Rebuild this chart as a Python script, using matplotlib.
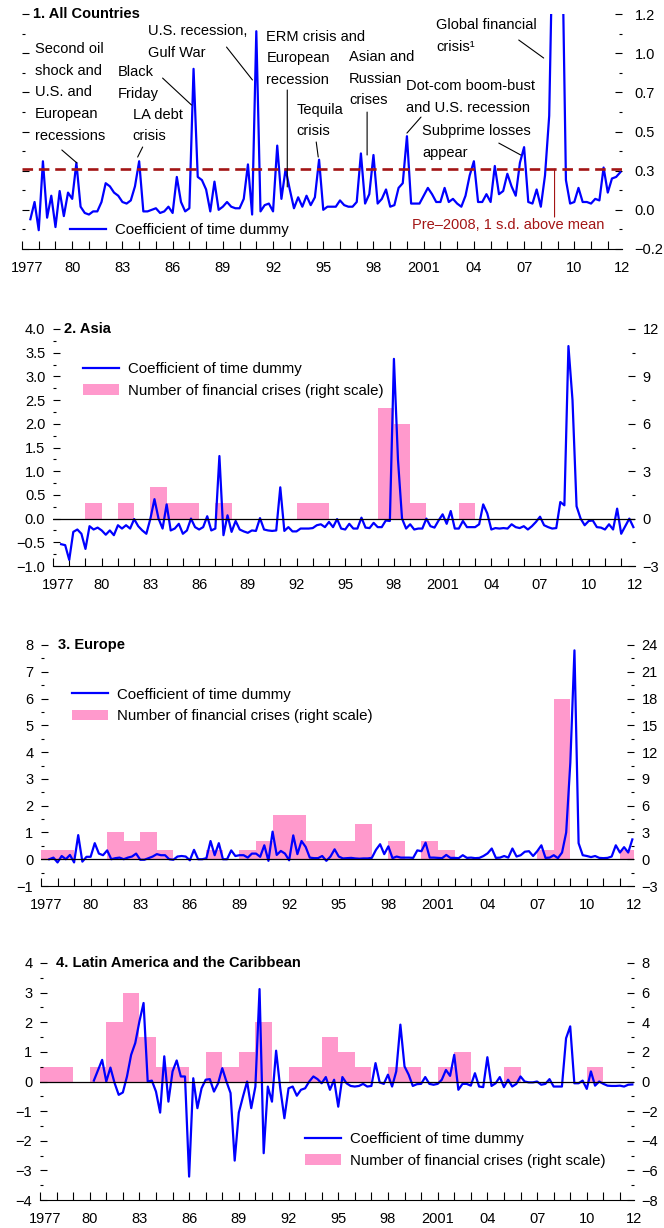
import numpy as np
import matplotlib
matplotlib.use('Agg')
import matplotlib.pyplot as plt
from matplotlib.lines import Line2D
from matplotlib.patches import Patch
from matplotlib.ticker import MultipleLocator

plt.rcParams['font.family'] = ['Liberation Sans', 'DejaVu Sans']

BLUE = '#0000FF'
PINK = '#FF99CC'
DARKRED = '#A31515'

# quarterly coefficients of the time dummy, first point 1977:Q2
first_quarter = 1977.5
all_countries = [
    -0.06, 0.05, -0.13, 0.31, -0.05, 0.09, -0.11, 0.12, -0.04, 0.11,
    0.07, 0.30, 0.02, -0.02, -0.03, -0.01, -0.01, 0.05, 0.17, 0.15,
    0.11, 0.09, 0.05, 0.04, 0.06, 0.15, 0.31, -0.01, -0.01, 0.00,
    0.01, -0.02, -0.01, 0.02, -0.02, 0.21, 0.05, -0.01, 0.01, 0.90,
    0.21, 0.19, 0.13, -0.01, 0.18, 0.00, 0.02, 0.05, 0.02, 0.01,
    0.01, 0.07, 0.29, -0.03, 1.14, -0.01, 0.03, 0.04, -0.01, 0.41,
    0.07, 0.26, 0.13, 0.01, 0.08, 0.02, 0.09, 0.03, 0.08, 0.32,
    0.00, 0.02, 0.02, 0.02, 0.06, 0.03, 0.02, 0.02, 0.05, 0.36,
    0.04, 0.10, 0.35, 0.04, 0.07, 0.13, 0.02, 0.03, 0.14, 0.17,
    0.47, 0.04, 0.04, 0.04, 0.09, 0.14, 0.10, 0.05, 0.05, 0.14,
    0.05, 0.07, 0.04, 0.02, 0.09, 0.22, 0.31, 0.05, 0.05, 0.10,
    0.05, 0.28, 0.10, 0.12, 0.23, 0.15, 0.09, 0.30, 0.40, 0.05,
    0.04, 0.13, 0.02, 0.22, 0.60, 2.00, 2.60, 1.90, 0.19, 0.04,
    0.05, 0.14, 0.05, 0.05, 0.04, 0.07, 0.06, 0.27, 0.11, 0.20,
    0.21, 0.24,
]
asia = [
    -0.54, -0.56, -0.87, -0.28, -0.23, -0.32, -0.64, -0.16, -0.23, -0.19,
    -0.25, -0.34, -0.25, -0.35, -0.14, -0.21, -0.14, -0.21, -0.01, -0.16,
    -0.25, -0.32, 0.00, 0.41, 0.00, -0.21, 0.30, -0.25, -0.21, -0.11,
    -0.32, -0.25, 0.00, -0.18, -0.23, -0.18, 0.05, -0.25, -0.21, 1.32,
    -0.35, 0.07, -0.28, -0.05, -0.23, -0.27, -0.30, -0.25, -0.26, 0.01,
    -0.23, -0.25, -0.26, -0.25, 0.66, -0.26, -0.18, -0.27, -0.27, -0.21,
    -0.21, -0.21, -0.20, -0.14, -0.12, -0.18, -0.07, -0.18, -0.01, -0.21,
    -0.23, -0.11, -0.21, -0.21, 0.02, -0.19, -0.20, -0.09, -0.18, -0.18,
    -0.04, -0.05, 3.37, 1.24, 0.00, -0.21, -0.12, -0.23, -0.21, -0.21,
    0.00, -0.16, -0.19, -0.04, 0.09, -0.11, 0.16, -0.21, -0.21, -0.05,
    -0.18, -0.18, -0.18, -0.12, 0.30, 0.11, -0.23, -0.20, -0.21, -0.20,
    -0.21, -0.12, -0.18, -0.20, -0.16, -0.23, -0.16, -0.07, 0.04, -0.14,
    -0.18, -0.21, -0.20, 0.35, 0.28, 3.64, 2.50, 0.26, 0.00, -0.14,
    -0.05, -0.04, -0.18, -0.19, -0.23, -0.12, -0.23, 0.21, -0.32, -0.16,
    0.00, -0.18,
]
europe = [
    0.00, 0.06, -0.12, 0.12, 0.00, 0.16, -0.12, 0.90, -0.09, 0.09,
    0.09, 0.60, 0.21, 0.15, 0.33, 0.00, 0.04, 0.06, 0.00, 0.06,
    0.10, 0.21, -0.02, -0.02, 0.04, 0.10, 0.19, 0.15, 0.15, 0.00,
    -0.02, 0.10, 0.12, 0.10, -0.04, 0.35, 0.00, 0.00, 0.04, 0.68,
    0.15, 0.60, 0.00, 0.00, 0.33, 0.12, 0.15, 0.15, 0.06, 0.21,
    0.21, 0.09, 0.52, -0.06, 1.03, 0.16, 0.31, 0.21, -0.04, 0.89,
    0.19, 0.68, 0.46, 0.06, 0.04, 0.04, 0.12, -0.06, 0.10, 0.37,
    0.10, 0.03, 0.04, 0.05, 0.03, 0.02, 0.03, 0.03, 0.05, 0.35,
    0.56, 0.19, 0.48, 0.04, 0.10, 0.06, 0.06, 0.06, 0.05, 0.33,
    0.30, 0.62, 0.06, 0.06, 0.05, 0.04, 0.16, 0.05, 0.05, 0.04,
    0.15, 0.05, 0.06, 0.04, 0.05, 0.12, 0.22, 0.40, 0.05, 0.06,
    0.12, 0.06, 0.40, 0.10, 0.15, 0.28, 0.30, 0.12, 0.30, 0.52,
    0.05, 0.06, 0.15, 0.04, 0.25, 1.00, 3.60, 7.80, 0.60, 0.15,
    0.12, 0.08, 0.12, 0.05, 0.04, 0.05, 0.10, 0.52, 0.25, 0.45,
    0.25, 0.74,
]
latam = [None] * 11 + [
    0.03, 0.38, 0.73, 0.00, 0.47, -0.05, -0.45, -0.37, 0.17,
    0.90, 1.30, 2.03, 2.65, 0.00, 0.03, -0.34, -1.05, 0.85, -0.68,
    0.34, 0.71, 0.17, 0.17, -3.21, 0.11, -0.90, -0.23, 0.06, 0.08,
    -0.34, -0.06, 0.45, 0.00, -0.39, -2.67, -1.05, -0.51, 0.00, -0.90,
    -0.17, 3.12, -2.42, -0.17, -0.68, 1.04, -0.23, -1.24, -0.23, -0.17,
    -0.48, -0.28, -0.23, 0.00, 0.17, 0.08, -0.06, 0.15, -0.28, 0.06,
    -0.85, 0.15, -0.06, -0.15, -0.17, -0.15, -0.08, -0.17, -0.15, 0.62,
    -0.03, -0.08, 0.23, -0.17, 0.34, 1.92, 0.51, 0.23, -0.15, -0.09,
    -0.08, 0.15, -0.08, -0.11, -0.08, 0.06, 0.39, 0.19, 0.90, -0.28,
    -0.08, -0.08, -0.14, 0.28, -0.17, -0.19, 0.82, -0.15, -0.06, 0.15,
    -0.19, 0.06, -0.17, -0.08, 0.17, 0.00, -0.03, -0.03, 0.00, -0.11,
    -0.08, 0.08, -0.17, -0.17, -0.17, 1.46, 1.86, -0.06, -0.06, 0.03,
    -0.25, 0.34, -0.14, 0.00, -0.08, -0.14, -0.15, -0.15, -0.14, -0.17,
    -0.11, -0.10,
]

# number of financial crises per year (right scale)
asia_years = [1979, 1981, 1983, 1984, 1985, 1987, 1992, 1993, 1997, 1998, 1999, 2002]
asia_crises = [1, 1, 2, 1, 1, 1, 1, 1, 7, 6, 1, 1]
europe_years = [1977, 1978, 1981, 1982, 1983, 1984, 1987, 1989, 1990, 1991, 1992,
                1993, 1994, 1995, 1996, 1998, 2000, 2001, 2007, 2008, 2012]
europe_crises = [1, 1, 3, 2, 3, 1, 1, 1, 2, 5, 5, 2, 2, 2, 4, 2, 2, 1, 1, 18, 1]
latam_years = [1977, 1978, 1980, 1981, 1982, 1983, 1984, 1985, 1987, 1988, 1989, 1990,
               1992, 1993, 1994, 1995, 1996, 1998, 1999, 2001, 2002, 2005, 2010]
latam_crises = [1, 1, 1, 4, 6, 3, 1, 1, 2, 1, 2, 4, 1, 1, 3, 2, 1, 1, 1, 1, 2, 1, 1]

threshold = 0.26  # pre-2008, 1 s.d. above mean

year_labels = ['1977', '80', '83', '86', '89', '92', '95', '98', '2001', '04', '07', '10', '12']
year_label_pos = [1977.3, 1980, 1983, 1986, 1989, 1992, 1995, 1998, 2001, 2004, 2007, 2010, 2012.85]

quarters = first_quarter + 0.25 * np.arange(len(all_countries))

W, H = 664, 1228
fig = plt.figure(figsize=(W / 100, H / 100), dpi=100)


def px_axes(x0, y0, x1, y1):
    return fig.add_axes([x0 / W, 1 - y1 / H, (x1 - x0) / W, (y1 - y0) / H])


def style_x(ax):
    ax.set_xlim(1977, 2012.75)
    ax.xaxis.remove_overlapping_locs = False
    ax.set_xticks(year_label_pos, year_labels)
    ax.set_xticks(np.arange(1977, 2013), minor=True)
    ax.tick_params(axis='x', which='major', length=0, pad=8.5, labelsize=10.5)
    ax.tick_params(axis='x', which='minor', direction='in', length=6, width=0.8)
    for s in ['top', 'left', 'right']:
        ax.spines[s].set_visible(False)
    ax.spines['bottom'].set_linewidth(0.8)


def style_y(ax, major, minor, pad=5.5):
    ax.yaxis.set_major_locator(MultipleLocator(major))
    ax.yaxis.set_minor_locator(MultipleLocator(minor))
    ax.tick_params(axis='y', which='major', direction='in', length=5, width=0.8,
                   labelsize=10.5, pad=pad)
    ax.tick_params(axis='y', which='minor', direction='in', length=2.5, width=0.8)


def legend(ax, anchor, with_bars=True):
    handles = [Line2D([], [], color=BLUE, lw=1.6)]
    labels = ['Coefficient of time dummy']
    if with_bars:
        handles.append(Patch(facecolor=PINK, edgecolor='none'))
        labels.append('Number of financial crises (right scale)')
    ax.legend(handles, labels, loc='center left', bbox_to_anchor=anchor, frameon=False,
              fontsize=10.8, handlelength=2.4, handletextpad=0.6, labelspacing=0.5,
              borderpad=0, borderaxespad=0)


def title(ax, s, xfrac):
    ax.text(xfrac, 1.0, s, transform=ax.transAxes, fontsize=10.5, fontweight='bold',
            ha='left', va='center')


# ---- 1. All countries
ax1 = px_axes(22, 14, 622, 249)
ax1.plot(quarters, all_countries, color=BLUE, lw=1.6)
ax1.axhline(threshold, color=DARKRED, lw=1.9, dashes=(4, 2.2))
ax1.set_ylim(-0.25, 1.25)
style_x(ax1)
style_y(ax1, 0.25, 0.125)
ax1.tick_params(axis='y', which='both', left=True, right=True, labelleft=False,
                labelright=True)
ax1.tick_params(axis='y', which='major', pad=9)
ax1.set_yticks([-0.25, 0, 0.25, 0.5, 0.75, 1.0, 1.25],
               ['\u22120.2', '0.0', '0.3', '0.5', '0.7', '1.0', '1.2'])
title(ax1, '1. All Countries', 0.018)
legend(ax1, (0.08, 0.081), with_bars=False)

events = [
    ('Second oil\nshock and\nU.S. and\nEuropean\nrecessions', (1977.77, 1.074), (1979.38, 0.382), (1980.28, 0.299)),
    ('Black\nFriday', (1982.72, 0.927), (1985.40, 0.841), (1987.13, 0.669)),
    ('LA debt\ncrisis', (1983.62, 0.653), (1984.21, 0.401), (1983.91, 0.337)),
    ('U.S. recession,\nGulf War', (1984.51, 1.183), (1989.22, 1.039), (1990.77, 0.829)),
    ('ERM crisis and\nEuropean\nrecession', (1991.60, 1.151), (1992.85, 0.765), (1992.85, 0.146)),
    ('Tequila\ncrisis', (1993.39, 0.685), (1994.58, 0.433), (1994.70, 0.337)),
    ('Asian and\nRussian\ncrises', (1996.55, 1.023), (1997.62, 0.624), (1997.62, 0.350)),
    ('Dot-com boom-bust\nand U.S. recession', (1999.94, 0.832), (2000.84, 0.592), (2000.00, 0.490)),
    ('Subprime losses\nappear', (2000.90, 0.545), (2005.49, 0.426), (2006.80, 0.350)),
    ('Global financial\ncrisis\u00b9', (2001.73, 1.227), (2006.68, 1.084), (2008.17, 0.969)),
]
line_pitch = 15.8  # points between text lines
for txt, pos, tail, tip in events:
    for j, part in enumerate(txt.split('\n')):
        ax1.annotate(part, xy=pos, xytext=(0, -j * line_pitch), textcoords='offset points',
                     fontsize=10.5, ha='left', va='top')
    ax1.annotate('', xy=tip, xytext=tail,
                 arrowprops=dict(arrowstyle='-', lw=0.8, color='black', shrinkA=0, shrinkB=0))
ax1.text(2000.30, -0.097, 'Pre\u20132008, 1 s.d. above mean', color=DARKRED, fontsize=10.5,
         ha='left', va='center')
ax1.annotate('', xy=(2008.82, -0.046), xytext=(2008.82, threshold),
             arrowprops=dict(arrowstyle='-', lw=0.8, color=DARKRED, shrinkA=0, shrinkB=0))


def region_panel(box, coef, years, crises, ylim, major, minor, rlim, rmajor, rminor,
                 name, title_x, leg_anchor, fmt=None):
    ax = px_axes(*box)
    tw = ax.twinx()
    tw.bar(years, crises, width=1.0, align='edge', color=PINK, linewidth=0)
    ax.plot(quarters, np.array(coef, dtype=float), color=BLUE, lw=1.6)
    ax.axhline(0, color='black', lw=0.9)
    ax.set_ylim(*ylim)
    tw.set_ylim(*rlim)
    style_x(ax)
    style_y(ax, major, minor)
    style_y(tw, rmajor, rminor)
    for s in tw.spines.values():
        s.set_visible(False)
    if fmt:
        ax.yaxis.set_major_formatter(fmt)
    ax.set_zorder(tw.get_zorder() + 1)
    ax.patch.set_visible(False)
    title(ax, name, title_x)
    legend(ax, leg_anchor)
    return ax, tw


region_panel((53, 329, 635, 566), asia, asia_years, asia_crises, (-1, 4), 0.5, 0.25,
             (-3, 12), 3, 1.5, '2. Asia', 0.019, (0.0515, 0.785), fmt='{x:.1f}')
region_panel((41, 645, 634, 886), europe, europe_years, europe_crises, (-1, 8), 1, 0.5,
             (-3, 24), 3, 1.5, '3. Europe', 0.029, (0.052, 0.749))
region_panel((40, 963, 634, 1200), latam, latam_years, latam_crises, (-4, 4), 1, 0.5,
             (-8, 8), 2, 1, '4. Latin America and the Caribbean', 0.027, (0.446, 0.211))

fig.savefig('out.png', dpi=100)
